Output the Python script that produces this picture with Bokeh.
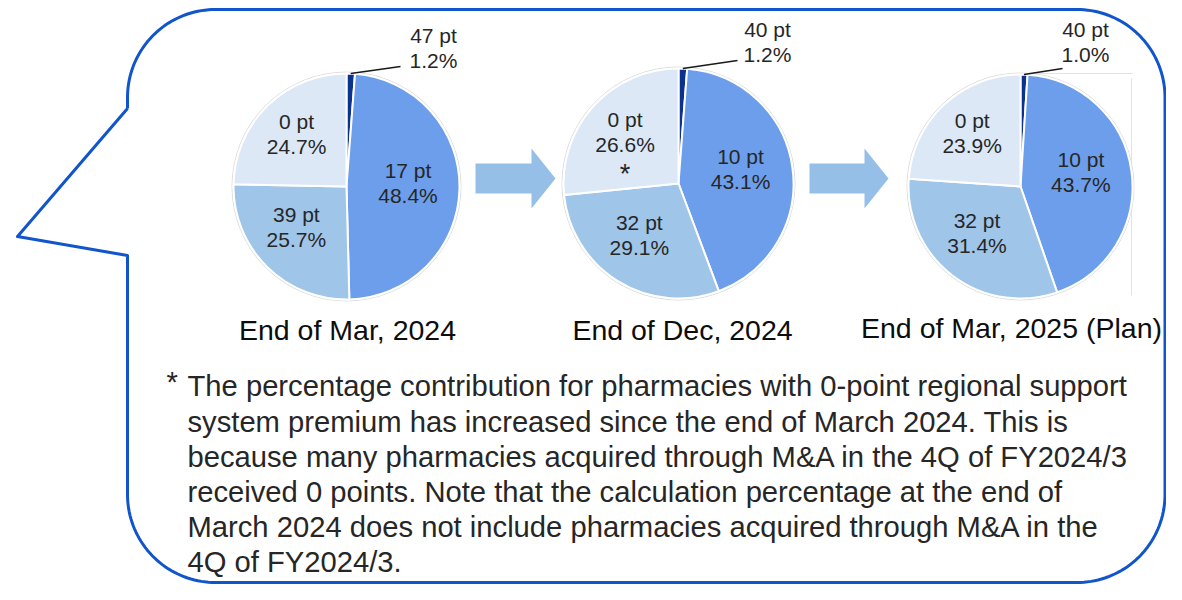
import numpy as np
from bokeh.plotting import figure
from bokeh.models import Range1d, ColumnDataSource
from bokeh.core.properties import value
from bokeh.embed import file_html
from bokeh.resources import INLINE

# ---------------- data ----------------
periods = ["End of Mar, 2024", "End of Dec, 2024", "End of Mar, 2025 (Plan)"]
points_mar24 = ["47 pt", "17 pt", "39 pt", "0 pt"]
points_dec24 = ["40 pt", "10 pt", "32 pt", "0 pt"]
points_mar25 = ["40 pt", "10 pt", "32 pt", "0 pt"]
share_mar24 = [1.2, 48.4, 25.7, 24.7]
share_dec24 = [1.2, 43.1, 29.1, 26.6]
share_mar25 = [1.0, 43.7, 31.4, 23.9]
zero_pt_marks = ["", "*", ""]
footnote_mark = "*"
footnote_lines = [
    "The percentage contribution for pharmacies with 0-point regional support",
    "system premium has increased since the end of March 2024. This is",
    "because many pharmacies acquired through M&A in the 4Q of FY2024/3",
    "received 0 points. Note that the calculation percentage at the end of",
    "March 2024 does not include pharmacies acquired through M&A in the",
    "4Q of FY2024/3.",
]

# ---------------- styles / layout ----------------
slice_colors = ["#0C3290", "#6D9EEB", "#9FC5E8", "#DCE8F6"]
FONT = value("Liberation Sans")
BLUE = "#1155CC"
ARROW = "#95BFE6"
TXT = "#262626"

W, H = 1166, 584


def Y(ry):
    return 600 - ry


def TB(ry, fs):
    # baseline position (page pixels) -> data y, with a small renderer correction
    return Y(ry - 0.36 * fs)


pies = [
    dict(cx=346, cy=186, r=113, call=(433, 43), lead=(400, 66), title=(347, 340)),
    dict(cx=678, cy=183, r=115, call=(767, 37), lead=(737, 60), title=(682, 340)),
    dict(cx=1020, cy=186, r=112, call=(1085, 37), lead=(1062, 68), title=(1011, 338)),
]
series = [(share_mar24, points_mar24), (share_dec24, points_dec24), (share_mar25, points_mar25)]

p = figure(width=W, height=H, x_range=Range1d(0, W), y_range=Range1d(600 - H, 600),
           output_backend="svg", toolbar_location=None, x_axis_type=None, y_axis_type=None,
           min_border=0, outline_line_color=None, background_fill_color="white",
           border_fill_color="white")
p.xgrid.grid_line_color = None
p.ygrid.grid_line_color = None

# ---------------- speech bubble ----------------
L, R_, T, B, RAD = 127, 1164.5, 9, 582, 88


def arc(cx, cy, rad, a0, a1, n=40):
    a = np.radians(np.linspace(a0, a1, n))
    return list(cx + rad * np.cos(a)), list(cy - rad * np.sin(a))


xs, ys = [L], [108]
for (cx, cy, a0, a1) in [(L + RAD, T + RAD, 180, 90), (R_ - RAD, T + RAD, 90, 0),
                         (R_ - RAD, B - RAD, 0, -90), (L + RAD, B - RAD, -90, -180)]:
    ax, ay = arc(cx, cy, RAD, a0, a1)
    xs += ax
    ys += ay
xs += [L, 17, L]
ys += [255, 236, 108]
p.line(xs, [Y(v) for v in ys], line_color=BLUE, line_width=3, line_join="round")

# faint frame lines around third chart
p.line([1027, 1132], [Y(73), Y(73)], line_color="#E3E3E3", line_width=1)
p.line([1131, 1131], [Y(78), Y(295)], line_color="#E3E3E3", line_width=1)

# ---------------- arrows ----------------
for (x0, x2) in [(475, 555), (809, 888)]:
    x1 = x2 - 24
    ax = [x0, x1, x1, x2, x1, x1, x0]
    ay = [163, 163, 148, 178, 208, 193, 193]
    p.patch(ax, [Y(v) for v in ay], fill_color=ARROW, line_color=None)

# ---------------- pies ----------------
LFS = 21
LAB_K, LAB_DX, LAB_DY = 0.58, -4, -5
for k, ((shares, pts), lay) in enumerate(zip(series, pies)):
    cx, cy, r = lay["cx"], lay["cy"], lay["r"]
    cum = np.concatenate([[0.0], np.cumsum(shares)])
    starts = np.pi / 2 - 2 * np.pi * cum[:-1] / 100.0
    ends = np.pi / 2 - 2 * np.pi * cum[1:] / 100.0
    p.circle(x=[cx], y=[Y(cy)], radius=r + 1.5, fill_color=None, line_color="#DCDCDC", line_width=1)
    src = ColumnDataSource(dict(x=[cx] * 4, y=[Y(cy)] * 4, start=starts, end=ends, color=slice_colors))
    p.wedge(x="x", y="y", radius=r, start_angle="start", end_angle="end", direction="clock",
            fill_color="color", line_color="white", line_width=2, source=src)

    mids = (starts + ends) / 2
    lx, l1, l2, t1, t2 = [], [], [], [], []
    for i in range(1, 4):
        kx = cx + LAB_K * r * np.cos(mids[i]) + LAB_DX
        ky = cy - LAB_K * r * np.sin(mids[i]) + LAB_DY
        b1 = ky - 5.5
        if i == 3 and zero_pt_marks[k]:
            b1 -= 1
            p.text(x=[kx], y=[TB(b1 + 56, 27)], text=[zero_pt_marks[k]], text_font=FONT,
                   text_font_size="27px", text_color=TXT, text_align="center",
                   text_baseline="alphabetic")
        lx.append(kx)
        l1.append(TB(b1, LFS))
        l2.append(TB(b1 + 25, LFS))
        t1.append(pts[i])
        t2.append(f"{shares[i]:.1f}%")
    p.text(x=lx, y=l1, text=t1, text_font=FONT, text_font_size=f"{LFS}px", text_color=TXT,
           text_align="center", text_baseline="alphabetic")
    p.text(x=lx, y=l2, text=t2, text_font=FONT, text_font_size=f"{LFS}px", text_color=TXT,
           text_align="center", text_baseline="alphabetic")

    # callout for the smallest slice
    sx = cx + r * np.cos(mids[0])
    sy = cy - r * np.sin(mids[0])
    ex, ey = lay["lead"]
    p.line([sx, ex], [Y(sy), Y(ey)], line_color="#1A1A1A", line_width=1.5)
    tx, ty = lay["call"]
    p.text(x=[tx, tx], y=[TB(ty, LFS), TB(ty + 25, LFS)], text=[pts[0], f"{shares[0]:.1f}%"],
           text_font=FONT, text_font_size=f"{LFS}px", text_color=TXT, text_align="center",
           text_baseline="alphabetic")

    # period title
    px_, py_ = lay["title"]
    p.text(x=[px_], y=[TB(py_, 28.5)], text=[periods[k]], text_font=FONT, text_font_size="28.5px",
           text_color="#0D0D0D", text_align="center", text_baseline="alphabetic")

# ---------------- footnote ----------------
FFS = 29.2
p.text(x=[166], y=[TB(392, FFS)], text=[footnote_mark], text_font=FONT, text_font_size=f"{FFS}px",
       text_color=TXT, text_align="left", text_baseline="alphabetic")
p.text(x=[187] * len(footnote_lines), y=[TB(396.5 + 35.2 * i, FFS) for i in range(len(footnote_lines))],
       text=footnote_lines, text_font=FONT, text_font_size=f"{FFS}px", text_color=TXT,
       text_align="left", text_baseline="alphabetic")

open("out.html", "w").write(file_html(p, INLINE))
